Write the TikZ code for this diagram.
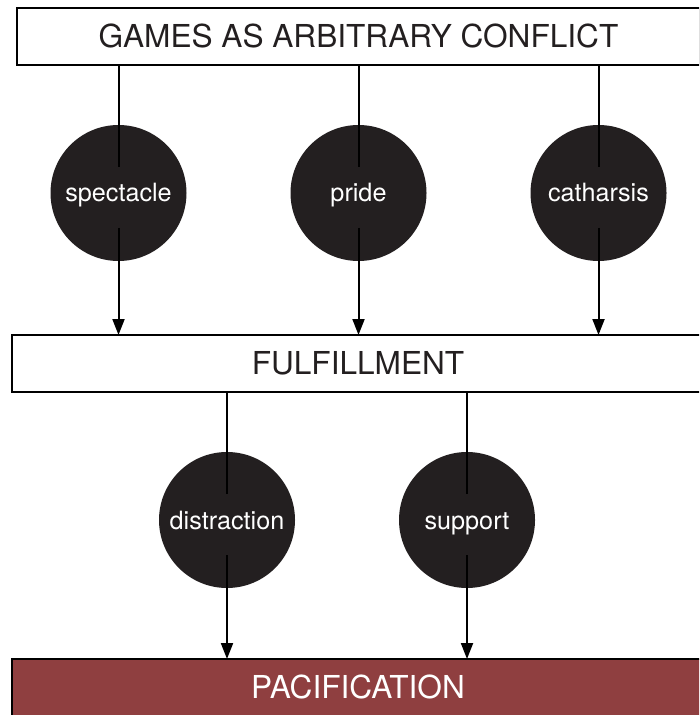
\documentclass[tikz,border=0pt]{standalone}
\usepackage{fontspec}
\setmainfont{TeX Gyre Heros}
\usepackage{tikz}
\usetikzlibrary{arrows.meta}
\usetikzlibrary{shapes,fit,calc,positioning}
\definecolor{inkdark}{HTML}{231F20}
\definecolor{pacred}{HTML}{8F3F40}
\tikzset{bar/.style={draw=black, line width=1.2pt, rectangle, inner sep=0pt, outer sep=0pt, minimum height=28.5pt, text height=11.4pt, text depth=0pt, text=inkdark, font=\fontsize{15.8}{18}\selectfont}}
\tikzset{ball/.style={circle, fill=inkdark, inner sep=0pt, outer sep=0pt, minimum size=68pt, text height=9pt, text depth=0pt, text=white, font=\fontsize{12.6}{14}\selectfont}}
\tikzset{line/.style={draw, line width=1pt}}
\tikzset{arrow/.style={draw, line width=1pt, -{Triangle[length=8pt,width=6pt]}}}

\begin{document}
\begin{tikzpicture}
			\clip (0pt,0pt) rectangle (349.5pt,-357.5pt);
			\fill [white] (0pt,0pt) rectangle (349.5pt,-357.5pt);
			\node [bar, minimum width=341.5pt] at (179.25pt,-18.25pt)  (top)  {GAMES AS ARBITRARY CONFLICT};
			\node [ball, below= 30pt of top, xshift=-120pt]   (c1)   {spectacle};
			\node [ball, below= 30pt of top]                  (c2)   {pride};
			\node [ball, below= 30pt of top, xshift=120pt]    (c3)   {catharsis};
			\node [bar, minimum width=346pt, below= 37pt of c2, xshift=-0.25pt]  (ful)  {FULFILLMENT};
			\node [ball, below= 30pt of ful, xshift=-65.5pt]  (d1)   {distraction};
			\node [ball, below= 30pt of ful, xshift=54.5pt]   (d2)   {support};
			\node [bar, minimum width=346pt, fill=pacred, text=white, below= 35.5pt of d1, xshift=65.5pt]  (pac)  {PACIFICATION};
			%
			\path [line]  (c1 |- top.south) -- ([yshift=13pt]c1.center);
			\path [line]  (c2 |- top.south) -- ([yshift=13pt]c2.center);
			\path [line]  (c3 |- top.south) -- ([yshift=13pt]c3.center);
			\path [arrow] ([yshift=-17.5pt]c1.center) -- (c1 |- ful.north);
			\path [arrow] ([yshift=-17.5pt]c2.center) -- (c2 |- ful.north);
			\path [arrow] ([yshift=-17.5pt]c3.center) -- (c3 |- ful.north);
			\path [line]  (d1 |- ful.south) -- ([yshift=13pt]d1.center);
			\path [line]  (d2 |- ful.south) -- ([yshift=13pt]d2.center);
			\path [arrow] ([yshift=-17.5pt]d1.center) -- (d1 |- pac.north);
			\path [arrow] ([yshift=-17.5pt]d2.center) -- (d2 |- pac.north);
\end{tikzpicture}
\end{document}
